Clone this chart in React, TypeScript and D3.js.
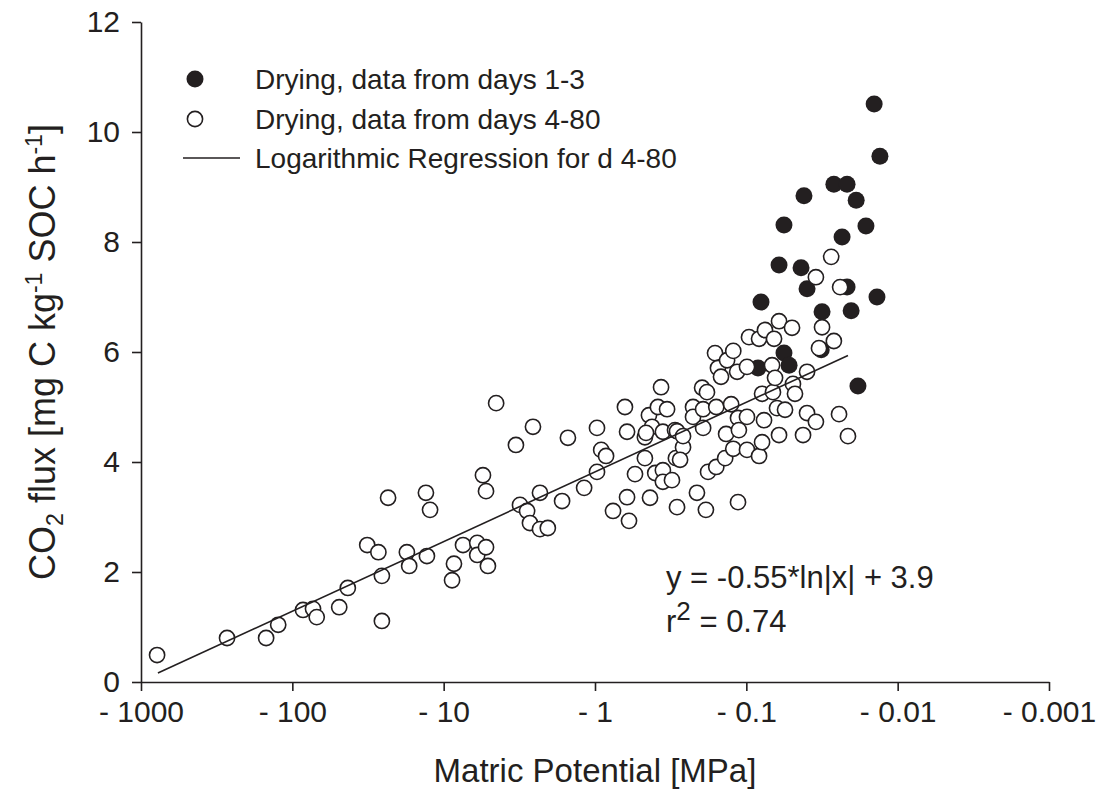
import React, { useEffect, useRef } from "react";
import * as d3 from "d3";

// Matric potential [MPa], CO2 flux [mg C kg-1 SOC h-1]
const daysOneToThree: [number, number][] = [
  [-0.0143, 10.51], [-0.0131, 9.56], [-0.0264, 9.05], [-0.0216, 9.05], [-0.0188, 8.76],
  [-0.0416, 8.84], [-0.0564, 8.31], [-0.0162, 8.29], [-0.0233, 8.09], [-0.0608, 7.58],
  [-0.0435, 7.53], [-0.0397, 7.15], [-0.0216, 7.18], [-0.0137, 7.0], [-0.08, 6.91],
  [-0.0316, 6.73], [-0.0203, 6.75], [-0.0564, 5.98], [-0.0522, 5.76], [-0.0837, 5.71],
  [-0.0183, 5.38], [-0.032, 6.04],
];

const daysFourToEighty: [number, number][] = [
  [-783, 0.49], [-270, 0.8], [-149, 0.8], [-124, 1.04], [-85, 1.31], [-73, 1.33], [-69, 1.18],
  [-49, 1.36], [-43, 1.71], [-32, 2.49], [-27, 2.36], [-25.6, 1.93], [-25.6, 1.11], [-23.3, 3.35],
  [-17.5, 2.36], [-16.9, 2.11], [-13.1, 3.44], [-12.3, 3.13], [-12.9, 2.29], [-8.8, 1.85],
  [-8.55, 2.15], [-7.45, 2.49], [-6.0, 2.53], [-6.0, 2.31], [-5.25, 2.45], [-5.1, 2.11],
  [-5.5, 3.76], [-5.25, 3.47], [-4.5, 5.07], [-3.33, 4.31], [-3.13, 3.22], [-2.81, 3.11],
  [-2.69, 2.89], [-2.57, 4.64], [-2.31, 3.44], [-2.31, 2.78], [-2.05, 2.8], [-1.65, 3.29],
  [-1.51, 4.44], [-1.18, 3.53], [-0.97, 4.62], [-0.97, 3.82], [-0.91, 4.22], [-0.845, 4.11],
  [-0.76, 3.11], [-0.634, 5.0], [-0.614, 4.55], [-0.614, 3.36], [-0.596, 2.93], [-0.544, 3.78],
  [-0.468, 4.45], [-0.468, 4.07], [-0.44, 4.85], [-0.433, 3.35], [-0.42, 4.64], [-0.4, 3.8],
  [-0.384, 5.0], [-0.366, 5.36], [-0.356, 4.55], [-0.356, 3.85], [-0.356, 3.64], [-0.334, 4.96],
  [-0.31, 3.67], [-0.296, 4.58], [-0.292, 4.07], [-0.287, 3.18], [-0.262, 4.27], [-0.225, 5.0],
  [-0.225, 4.82], [-0.212, 3.44], [-0.196, 5.35], [-0.182, 5.27], [-0.193, 4.96], [-0.193, 4.62],
  [-0.185, 3.13], [-0.179, 3.82], [-0.161, 5.98], [-0.158, 5.0], [-0.158, 3.91], [-0.154, 5.71],
  [-0.147, 5.55], [-0.138, 4.07], [-0.136, 4.51], [-0.134, 5.85], [-0.126, 5.05], [-0.122, 6.02],
  [-0.122, 4.24], [-0.115, 5.64], [-0.1135, 4.8], [-0.1135, 3.27], [-0.112, 4.58], [-0.099, 5.73],
  [-0.099, 4.82], [-0.099, 4.22], [-0.096, 6.27], [-0.0824, 6.24], [-0.0824, 4.11], [-0.0787, 5.24],
  [-0.0787, 4.36], [-0.0764, 4.76], [-0.0753, 6.4], [-0.0676, 5.76], [-0.0667, 5.27], [-0.0656, 6.24],
  [-0.0646, 5.53], [-0.0627, 4.98], [-0.0608, 6.56], [-0.0608, 4.49], [-0.0555, 4.95], [-0.0499, 6.44],
  [-0.0492, 5.42], [-0.0477, 5.24], [-0.0422, 4.49], [-0.0397, 5.64], [-0.0397, 4.89], [-0.0347, 7.36],
  [-0.0347, 4.73], [-0.0331, 6.07], [-0.0316, 6.45], [-0.0275, 7.73], [-0.0264, 6.2], [-0.0244, 4.87],
  [-0.024, 7.18], [-0.0213, 4.47], [-0.46, 4.53], [-0.287, 4.56], [-0.262, 4.47], [-0.274, 4.04],
];

// Regression line as drawn: y = a*ln|x| + b over the fitted range
const regressionCoef = { a: -0.55, b: 3.82 };
const regressionRange = [-773, -0.0213];

const xTickValues = [-1000, -100, -10, -1, -0.1, -0.01, -0.001];
const yTickValues = [0, 2, 4, 6, 8, 10, 12];

const legendLabels = [
  "Drying, data from days 1-3",
  "Drying, data from days 4-80",
  "Logarithmic Regression for d 4-80",
];

const INK = "#231f20";
const FONT = "'Liberation Sans', Arial, Helvetica, sans-serif";

export default function App() {
  const ref = useRef<SVGGElement>(null);

  useEffect(() => {
    const svg = d3.select(ref.current);
    svg.selectAll("*").remove();

    const x = d3.scaleLog().domain([1000, 0.001]).range([141, 1049]);
    const y = d3.scaleLinear().domain([0, 12]).range([682, 22]);
    const px = (v: number) => x(Math.abs(v));

    // axes
    const xAxis = d3
      .axisBottom(x)
      .tickValues(xTickValues.map((v) => Math.abs(v)))
      .tickFormat((d: any) => "- " + String(+d))
      .tickSizeOuter(0)
      .tickSizeInner(9)
      .tickPadding(10);
    const gx = svg.append("g").attr("transform", "translate(0,682)").call(xAxis as any);
    gx.select(".domain").attr("stroke", INK).attr("stroke-width", 1.6);
    gx.selectAll(".tick line").attr("stroke", INK).attr("stroke-width", 1.6);
    gx.selectAll(".tick text")
      .attr("fill", INK)
      .attr("font-family", FONT)
      .attr("font-size", 30);

    const yAxis = d3
      .axisLeft(y)
      .tickValues(yTickValues)
      .tickFormat((d: any) => String(d))
      .tickSizeOuter(0)
      .tickSizeInner(9)
      .tickPadding(12);
    const gy = svg.append("g").attr("transform", "translate(141,0)").call(yAxis as any);
    gy.select(".domain").attr("stroke", INK).attr("stroke-width", 1.6);
    gy.selectAll(".tick line").attr("stroke", INK).attr("stroke-width", 1.6);
    gy.selectAll(".tick text")
      .attr("fill", INK)
      .attr("font-family", FONT)
      .attr("font-size", 30);

    // points
    svg
      .append("g")
      .selectAll("circle")
      .data(daysOneToThree)
      .join("circle")
      .attr("cx", (d) => px(d[0]))
      .attr("cy", (d) => y(d[1]))
      .attr("r", 8.5)
      .attr("fill", INK);

    svg
      .append("g")
      .selectAll("circle")
      .data(daysFourToEighty)
      .join("circle")
      .attr("cx", (d) => px(d[0]))
      .attr("cy", (d) => y(d[1]))
      .attr("r", 7.6)
      .attr("fill", "white")
      .attr("stroke", INK)
      .attr("stroke-width", 1.6);

    // regression line
    const regPts = regressionRange.map((v) => [v, regressionCoef.a * Math.log(Math.abs(v)) + regressionCoef.b]);
    const line = d3
      .line<number[]>()
      .x((d) => px(d[0]))
      .y((d) => y(d[1]));
    svg
      .append("path")
      .attr("d", line(regPts))
      .attr("fill", "none")
      .attr("stroke", INK)
      .attr("stroke-width", 1.6);
  }, []);

  const legendY = [79, 119, 158];

  return (
    <svg
      width={1113}
      height={805}
      style={{ position: "absolute", left: 0, top: 0, background: "white" }}
    >
      <g ref={ref} />
      {/* legend */}
      <g fontFamily={FONT} fontSize={28} fill={INK}>
        <circle cx={195} cy={legendY[0]} r={8.5} fill={INK} />
        <circle cx={195} cy={legendY[1]} r={7.6} fill="white" stroke={INK} strokeWidth={1.6} />
        <line x1={183} x2={240} y1={legendY[2]} y2={legendY[2]} stroke={INK} strokeWidth={1.6} />
        {legendLabels.map((t, i) => (
          <text key={i} x={255} y={legendY[i]} dy="0.35em">
            {t}
          </text>
        ))}
      </g>
      {/* equation */}
      <g fontFamily={FONT} fontSize={31} fill={INK}>
        <text x={666} y={588}>y = -0.55*ln|x| + 3.9</text>
        <text x={666} y={632}>
          r<tspan dy={-12} fontSize={26}>2</tspan>
          <tspan dy={12}> = 0.74</tspan>
        </text>
      </g>
      {/* axis titles */}
      <text
        x={595}
        y={782}
        textAnchor="middle"
        fontFamily={FONT}
        fontSize={33}
        fill={INK}
      >
        Matric Potential [MPa]
      </text>
      <text
        transform="translate(55,352) rotate(-90)"
        textAnchor="middle"
        fontFamily={FONT}
        fontSize={36}
        fill={INK}
      >
        CO<tspan fontSize={23} dy={8}>2</tspan>
        <tspan dy={-8}> flux [mg C kg</tspan>
        <tspan fontSize={23} dy={-13}>-1</tspan>
        <tspan dy={13}> SOC h</tspan>
        <tspan fontSize={23} dy={-13}>-1</tspan>
        <tspan dy={13}>]</tspan>
      </text>
    </svg>
  );
}
